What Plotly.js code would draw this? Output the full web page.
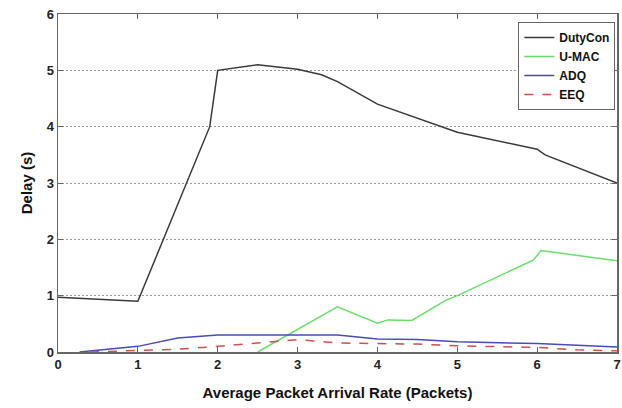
<!DOCTYPE html>
<html>
<head>
<meta charset="utf-8">
<script src="https://cdn.plot.ly/plotly-3.0.1.min.js"></script>
<style>html,body{margin:0;padding:0;background:#fff;}#chart{width:622px;height:408px;}</style>
</head>
<body>
<div id="chart"></div>
<script>
// DutyCon
const dutyX = [0, 0.5, 1, 1.9, 2, 2.5, 3, 3.3, 3.5, 4, 4.5, 5, 6, 6.1, 7];
const dutyY = [0.97, 0.93, 0.9, 4.0, 5.0, 5.1, 5.02, 4.92, 4.8, 4.4, 4.15, 3.9, 3.6, 3.5, 3.0];
// U-MAC
const umacX = [2.5, 3.5, 4.0, 4.13, 4.43, 4.86, 5.0, 5.95, 6.05, 7];
const umacY = [0.0, 0.8, 0.51, 0.57, 0.56, 0.92, 1.0, 1.63, 1.8, 1.62];
// ADQ
const adqX = [0.27, 1, 1.5, 2, 3.5, 4, 4.5, 5, 6, 7];
const adqY = [0.0, 0.1, 0.25, 0.3, 0.3, 0.23, 0.22, 0.18, 0.15, 0.09];
// EEQ
const eeqX = [0.4, 1, 1.5, 2, 2.5, 3, 3.5, 4, 4.5, 5, 6, 6.5, 7];
const eeqY = [0.0, 0.02, 0.05, 0.1, 0.16, 0.22, 0.16, 0.15, 0.14, 0.11, 0.08, 0.04, 0.02];

const names = ['DutyCon', 'U-MAC', 'ADQ', 'EEQ'];
const colors = ['#3a3a3a', '#6cdc6c', '#4a4ab8', '#cc5050'];

const traces = [
  {x: dutyX, y: dutyY, name: names[0], mode: 'lines', line: {color: colors[0], width: 1.5}},
  {x: umacX, y: umacY, name: names[1], mode: 'lines', line: {color: colors[1], width: 1.5}},
  {x: adqX, y: adqY, name: names[2], mode: 'lines', line: {color: colors[2], width: 1.5}},
  {x: eeqX, y: eeqY, name: names[3], mode: 'lines', line: {color: colors[3], width: 1.5, dash: 'dash'}}
];

const font = {family: 'Liberation Sans, Arial, sans-serif', color: '#222'};

const layout = {
  width: 622, height: 408,
  margin: {l: 58, r: 5, t: 14, b: 56},
  paper_bgcolor: '#fff', plot_bgcolor: '#fff',
  showlegend: true,
  font: font,
  xaxis: {
    range: [0, 7], dtick: 1, tick0: 0,
    showgrid: false, zeroline: false,
    showline: true, linecolor: '#666', linewidth: 1.5, mirror: 'ticks',
    ticks: 'inside', ticklen: 5, tickcolor: '#666',
    tickfont: {family: font.family, size: 13, color: '#222', weight: 'bold'},
    title: {text: 'Average Packet Arrival Rate (Packets)', font: {family: font.family, size: 15, color: '#111', weight: 'bold'}, standoff: 16}
  },
  yaxis: {
    range: [0, 6], dtick: 1, tick0: 0,
    showgrid: true, gridcolor: '#999', griddash: '1.5px,2.5px', gridwidth: 1,
    zeroline: false,
    showline: true, linecolor: '#666', linewidth: 1.5, mirror: 'ticks',
    ticks: 'inside', ticklen: 5, tickcolor: '#666',
    tickfont: {family: font.family, size: 13, color: '#222', weight: 'bold'},
    title: {text: 'Delay (s)', font: {family: font.family, size: 15, color: '#111', weight: 'bold'}, standoff: 10}
  },
  legend: {
    x: 0.997, y: 0.976, xanchor: 'right', yanchor: 'top',
    bgcolor: '#fff', bordercolor: '#666', borderwidth: 1,
    font: {family: font.family, size: 12, color: '#111', weight: 'bold'},
    itemwidth: 30, tracegroupgap: 0
  }
};

Plotly.newPlot('chart', traces, layout, {displayModeBar: false, staticPlot: true});
</script>
</body>
</html>
